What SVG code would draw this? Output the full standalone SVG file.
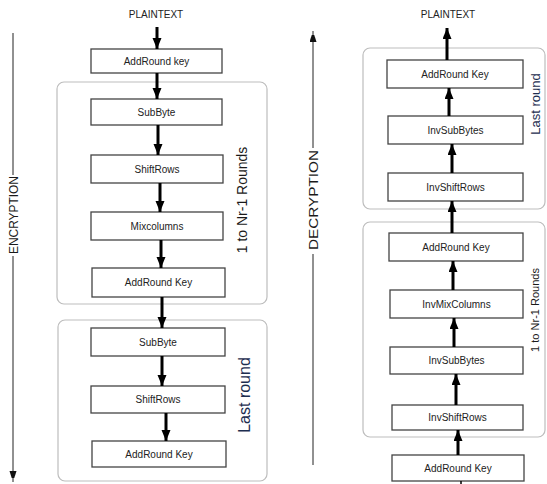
<svg xmlns="http://www.w3.org/2000/svg" width="547" height="484" viewBox="0 0 547 484">
  <style>
    .lbl { font-family: "Liberation Sans", Arial, sans-serif; font-size: 10px; fill: #222; text-anchor: middle; }
    .box { fill: #fff; stroke: #444; stroke-width: 1.3; }
    .grp { fill: none; stroke: #bdbdbd; stroke-width: 1.2; }
    .flow { stroke: #000; stroke-width: 3; fill: none; marker-end: url(#head); }
    .axis { stroke: #222; stroke-width: 1; fill: none; }
    .side { font-family: "Liberation Sans", Arial, sans-serif; fill: #1a1a1a; text-anchor: middle; }
    .navy { fill: #1d2e50; }
  </style>
  <defs>
    <marker id="head" markerUnits="userSpaceOnUse" markerWidth="9" markerHeight="11" refX="11" refY="4.5" orient="auto">
      <path d="M0,0 L11,4.5 L0,9 z" fill="#000"/>
    </marker>
    <marker id="axhead" markerUnits="userSpaceOnUse" markerWidth="7" markerHeight="11" refX="11" refY="3.5" orient="auto">
      <path d="M0,0 L11,3.5 L0,7 z" fill="#111"/>
    </marker>
  </defs>

  <rect width="547" height="484" fill="#fff"/>

  <!-- round groupings -->
  <g id="enc-rounds"><rect class="grp" x="57" y="82" width="210" height="222" rx="7"/></g>
  <g id="enc-last"><rect class="grp" x="58" y="320" width="209" height="161" rx="7"/></g>
  <g id="dec-last"><rect class="grp" x="363" y="48" width="182" height="161" rx="7"/></g>
  <g id="dec-rounds"><rect class="grp" x="363" y="222" width="182" height="215" rx="7"/></g>

  <!-- encryption axis -->
  <g id="enc-axis">
    <line class="axis" x1="13" y1="33" x2="13" y2="175"/>
    <line class="axis" x1="13" y1="256" x2="13" y2="482" marker-end="url(#axhead)"/>
    <text class="side" font-size="12" transform="translate(17.5,215) rotate(-90)" textLength="78" lengthAdjust="spacingAndGlyphs">ENCRYPTION</text>
  </g>

  <!-- decryption axis -->
  <g id="dec-axis">
    <line class="axis" x1="313" y1="465" x2="313" y2="254"/>
    <line class="axis" x1="313" y1="148" x2="313" y2="31" marker-end="url(#axhead)"/>
    <text class="side" font-size="12" transform="translate(317.5,200) rotate(-90)" textLength="100" lengthAdjust="spacingAndGlyphs">DECRYPTION</text>
  </g>

  <!-- encryption nodes -->
  <g id="enc-in"><text class="lbl" x="156" y="18">PLAINTEXT</text></g>
  <g id="enc-addkey0"><rect class="box" x="91" y="49" width="131" height="24"/><text class="lbl" x="156.5" y="64.5">AddRound key</text></g>
  <g id="enc-subbyte"><rect class="box" x="91" y="99" width="131" height="26"/><text class="lbl" x="156.5" y="115.5">SubByte</text></g>
  <g id="enc-shiftrows"><rect class="box" x="91" y="155" width="132" height="28"/><text class="lbl" x="157" y="172.5">ShiftRows</text></g>
  <g id="enc-mixcolumns"><rect class="box" x="91" y="212" width="132" height="28"/><text class="lbl" x="157" y="229.5">Mixcolumns</text></g>
  <g id="enc-addkey"><rect class="box" x="92" y="268" width="133" height="29"/><text class="lbl" x="158.5" y="286">AddRound Key</text></g>
  <g id="enc-subbyte-last"><rect class="box" x="91" y="328" width="134" height="28"/><text class="lbl" x="158" y="345.5">SubByte</text></g>
  <g id="enc-shiftrows-last"><rect class="box" x="91" y="386" width="134" height="27"/><text class="lbl" x="158" y="403">ShiftRows</text></g>
  <g id="enc-addkey-last"><rect class="box" x="92" y="441" width="134" height="26"/><text class="lbl" x="159" y="457.5">AddRound Key</text></g>
  <g id="enc-rounds-label"><text class="side" font-size="14" transform="translate(247,200) rotate(-90)">1 to Nr-1 Rounds</text></g>
  <g id="enc-last-label"><text class="side navy" font-size="16" transform="translate(249.5,395) rotate(-90)">Last round</text></g>

  <!-- decryption nodes -->
  <g id="dec-out"><text class="lbl" x="448" y="18">PLAINTEXT</text></g>
  <g id="dec-addkey-last"><rect class="box" x="387" y="60" width="136" height="28"/><text class="lbl" x="455" y="77.5">AddRound Key</text></g>
  <g id="dec-invsub-last"><rect class="box" x="388" y="116" width="135" height="28"/><text class="lbl" x="455.5" y="133.5">InvSubBytes</text></g>
  <g id="dec-invshift-last"><rect class="box" x="388" y="173" width="135" height="28"/><text class="lbl" x="455.5" y="190.5">InvShiftRows</text></g>
  <g id="dec-addkey"><rect class="box" x="389" y="233" width="134" height="28"/><text class="lbl" x="456" y="250.5">AddRound Key</text></g>
  <g id="dec-invmix"><rect class="box" x="390" y="290" width="133" height="28"/><text class="lbl" x="456.5" y="307.5">InvMixColumns</text></g>
  <g id="dec-invsub"><rect class="box" x="390" y="347" width="133" height="27"/><text class="lbl" x="456.5" y="364">InvSubBytes</text></g>
  <g id="dec-invshift"><rect class="box" x="392" y="405" width="131" height="25"/><text class="lbl" x="457.5" y="421">InvShiftRows</text></g>
  <g id="dec-addkey0"><rect class="box" x="392" y="455" width="132" height="26"/><text class="lbl" x="458" y="471.5">AddRound Key</text></g>
  <g id="dec-last-label"><text class="side navy" font-size="13" transform="translate(539.5,104) rotate(-90)">Last round</text></g>
  <g id="dec-rounds-label"><text class="side" font-size="11" transform="translate(539,310) rotate(-90)">1 to Nr-1 Rounds</text></g>

  <!-- connectors -->
  <g id="connectors">
    <line class="flow" x1="157" y1="27" x2="157" y2="49"/>
    <line class="flow" x1="157" y1="73" x2="157" y2="99"/>
    <line class="flow" x1="158" y1="125" x2="158" y2="155"/>
    <line class="flow" x1="160" y1="183" x2="160" y2="212"/>
    <line class="flow" x1="161" y1="240" x2="161" y2="268"/>
    <line class="flow" x1="162" y1="297" x2="162" y2="328"/>
    <line class="flow" x1="162" y1="356" x2="162" y2="386"/>
    <line class="flow" x1="166" y1="413" x2="166" y2="441"/>

    <line class="flow" x1="447" y1="60" x2="447" y2="28"/>
    <line class="flow" x1="449" y1="116" x2="449" y2="88"/>
    <line class="flow" x1="452" y1="173" x2="452" y2="144"/>
    <line class="flow" x1="452" y1="233" x2="452" y2="201"/>
    <line class="flow" x1="453" y1="290" x2="453" y2="261"/>
    <line class="flow" x1="454" y1="347" x2="454" y2="318"/>
    <line class="flow" x1="456" y1="405" x2="456" y2="374"/>
    <line class="flow" x1="458" y1="455" x2="458" y2="430"/>
    <line stroke="#000" stroke-width="1.5" x1="461" y1="481" x2="461" y2="484"/>
  </g>
</svg>
